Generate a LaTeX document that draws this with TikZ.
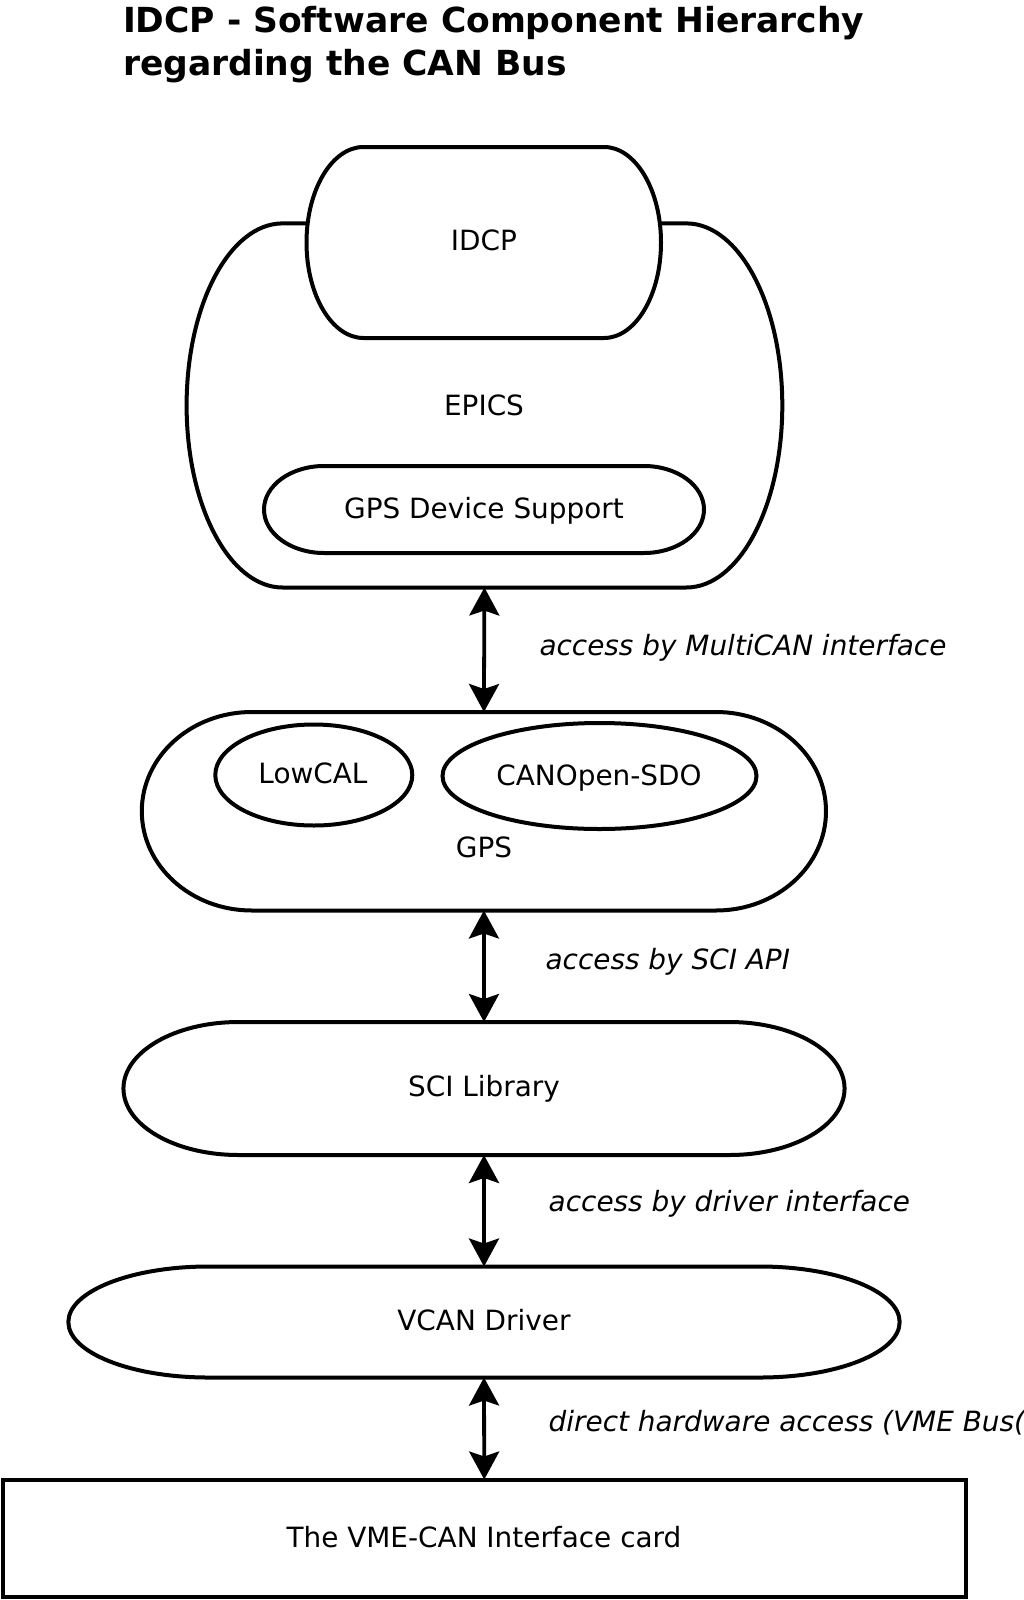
\documentclass[tikz,border=0pt]{standalone}
\usepackage{fontspec}
\setmainfont{DejaVu Sans}
\usetikzlibrary{arrows.meta,shapes.geometric}
\tikzset{
  holder/.style={draw=none,rectangle,inner sep=0pt,outer sep=0pt},
  outline/.style={draw=black,line width=4pt,fill=white,line join=round},
  oval/.style={draw=black,line width=4pt,fill=white,ellipse,inner sep=0pt,outer sep=0pt},
  cardbox/.style={draw=black,line width=4pt,fill=white,rectangle,inner sep=0pt,outer sep=0pt},
  lbl/.style={inner sep=0pt,outer sep=0pt,font=\fontsize{27.9}{33}\selectfont},
  ilbl/.style={inner sep=0pt,outer sep=0pt,font=\fontsize{27.9}{33}\selectfont\itshape,anchor=base west},
  ttl/.style={inner sep=0pt,outer sep=0pt,font=\fontsize{34.5}{43.5}\selectfont\bfseries,anchor=base west},
  dbl/.style={line width=3.8pt,{Stealth[length=28pt,width=30pt,inset=5pt]}-{Stealth[length=28pt,width=30pt,inset=5pt]}}
}
% #1 node name, #2 x radius, #3 y radius
\newcommand\softbox[3]{%
  \draw[outline] ([xshift=#2pt]#1.north west) -- ([xshift=-#2pt]#1.north east)
    arc[start angle=-90,end angle=0,x radius=#2,y radius=#3]
    -- ([yshift=#3pt]#1.south east)
    arc[start angle=0,end angle=90,x radius=#2,y radius=#3]
    -- ([xshift=#2pt]#1.south west)
    arc[start angle=90,end angle=180,x radius=#2,y radius=#3]
    -- ([yshift=-#3pt]#1.north west)
    arc[start angle=180,end angle=270,x radius=#2,y radius=#3]
    -- cycle;}
\begin{document}
\begin{tikzpicture}[x=1pt,y=-1pt]
\useasboundingbox (0,0) rectangle (1024,1600);
\clip (0,0) rectangle (1024,1600);
\fill[white] (0,0) rectangle (1024,1600);

% title
\node[ttl] (title1) at (123,32.5) {IDCP - Software Component Hierarchy};
\node[ttl] (title2) at (123,76) {regarding the CAN Bus};

% shape holders
\node[holder,minimum width=595.7pt,minimum height=364.1pt] (epics) at (484.45,405.45) {};
\node[holder,minimum width=354.5pt,minimum height=191pt] (idcp) at (483.75,242.5) {};
\node[holder,minimum width=440pt,minimum height=87pt] (gpsds) at (484,509.5) {};
\node[holder,minimum width=684.2pt,minimum height=198.5pt] (gps) at (483.9,811.25) {};
\node[holder,minimum width=721.1pt,minimum height=133pt] (sci) at (484,1088.5) {};
\node[holder,minimum width=831.3pt,minimum height=111pt] (vcan) at (484,1322) {};

% outlines
\softbox{epics}{96}{182.05}
\softbox{idcp}{57}{95.5}
\softbox{gpsds}{60}{43.5}
\softbox{gps}{110}{99.25}
\node[oval,minimum width=197pt,minimum height=101pt] (lowcal) at (313.8,775) {};
\node[oval,minimum width=314pt,minimum height=106pt] (canopen) at (599.5,776) {};
\softbox{sci}{115}{66.5}
\softbox{vcan}{140}{55.5}
\node[cardbox,minimum width=963.5pt,minimum height=117.5pt] (card) at (484.25,1538.25) {};

% texts
\node[lbl,anchor=base] (idcpT) at (484,250.7) {IDCP};
\node[lbl,anchor=base] (epicsT) at (484,415) {EPICS};
\node[lbl,anchor=base] (gpsdsT) at (484,518) {GPS Device Support};
\node[lbl,anchor=base] (lowcalT) at (313,783) {LowCAL};
\node[lbl,anchor=base] (canopenT) at (599,785) {CANOpen-SDO};
\node[lbl,anchor=base] (gpsT) at (484,857.5) {GPS};
\node[lbl,anchor=base] (sciT) at (484,1096.5) {SCI Library};
\node[lbl,anchor=base] (vcanT) at (484,1330) {VCAN Driver};
\node[lbl,anchor=base] (cardT) at (484,1547) {The VME-CAN Interface card};

% connectors
\draw[dbl] (epics.south) -- (gps.north);
\draw[dbl] (gps.south) -- (sci.north);
\draw[dbl] (sci.south) -- (vcan.north);
\draw[dbl] (vcan.south) -- (card.north);

% connector labels
\node[ilbl] (l1) at (539.5,655.6) {access by MultiCAN interface};
\node[ilbl] (l2) at (545.6,969.7) {access by SCI API};
\node[ilbl] (l3) at (548.7,1211.5) {access by driver interface};
\node[ilbl] (l4) at (548.7,1431.7) {direct hardware access (VME Bus(};
\end{tikzpicture}
\end{document}
